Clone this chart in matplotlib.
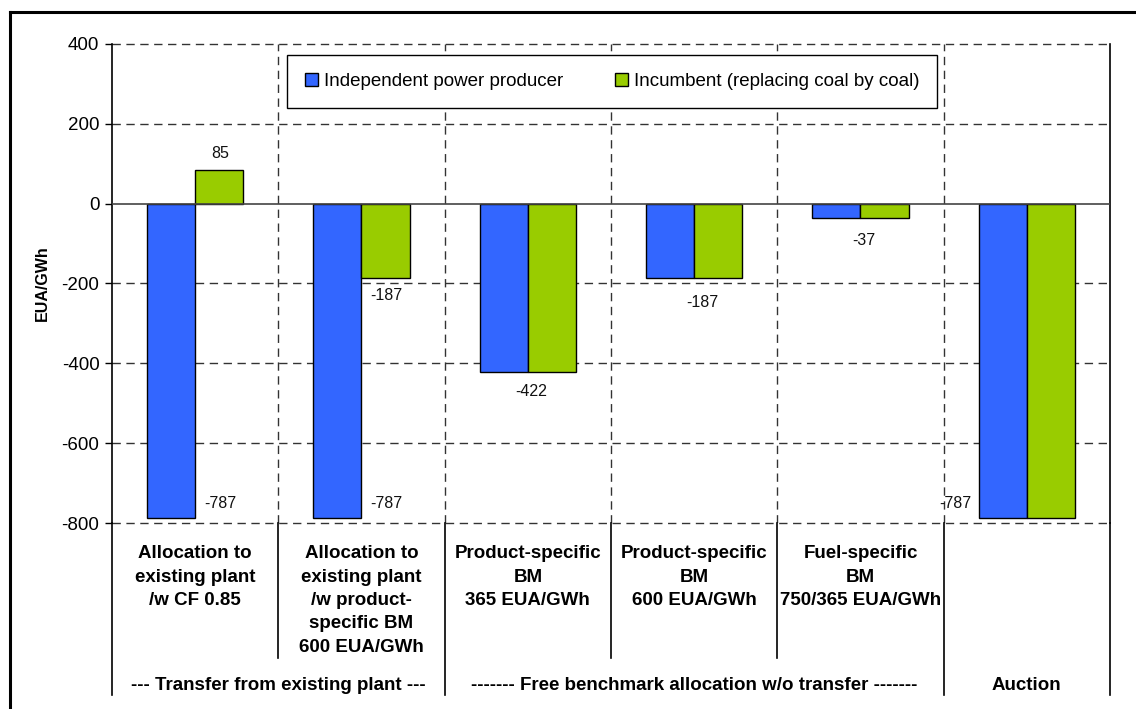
import matplotlib
matplotlib.use("Agg")
import matplotlib.pyplot as plt
from matplotlib.lines import Line2D
from matplotlib.patches import Patch
import numpy as np

plt.rcParams['font.family'] = ['Liberation Sans', 'DejaVu Sans']

categories = [
    "Allocation to\nexisting plant\n/w CF 0.85",
    "Allocation to\nexisting plant\n/w product-\nspecific BM\n600 EUA/GWh",
    "Product-specific\nBM\n365 EUA/GWh",
    "Product-specific\nBM\n600 EUA/GWh",
    "Fuel-specific\nBM\n750/365 EUA/GWh",
    "",
]
groups = ["--- Transfer from existing plant ---",
          "------- Free benchmark allocation w/o transfer -------",
          "Auction"]
group_spans = [(0, 1), (2, 4), (5, 5)]
series_names = ["Independent power producer", "Incumbent (replacing coal by coal)"]
ipp = [-787, -787, -422, -187, -37, -787]
incumbent = [85, -187, -422, -187, -37, -787]
yticks = [400, 200, 0, -200, -400, -600, -800]

blue = "#3366FF"
green = "#99CC00"

fig = plt.figure(figsize=(11.36, 7.09), dpi=100)
ax = fig.add_axes([112/1136, 1-523/709, 998/1136, 479/709])

x = np.arange(len(categories))
w = 0.29
ax.bar(x - w/2, ipp, w, color=blue, edgecolor="black", linewidth=1.0, zorder=3,
       label=series_names[0])
ax.bar(x + w/2, incumbent, w, color=green, edgecolor="black", linewidth=1.0, zorder=3,
       label=series_names[1])

ax.set_xlim(-0.5, len(categories) - 0.5)
ax.set_ylim(-800, 400)
ax.set_yticks(yticks)
ax.set_yticklabels([str(v) for v in yticks], fontsize=13.5)
ax.set_xticks([])
ax.tick_params(axis='y', direction='out', length=5, width=1, pad=4)

for s in ['top', 'bottom']:
    ax.spines[s].set_visible(False)
ax.spines['left'].set_linewidth(1.2)
ax.spines['right'].set_linewidth(1.2)

# horizontal gridlines
for v in yticks:
    if v == 0:
        ax.axhline(0, color="#444444", lw=1.2, zorder=4)
    else:
        ax.axhline(v, color="#333333", lw=1.0, ls=(0, (6, 4)), zorder=1, clip_on=False)
# vertical separators (dashed within plot)
for i in range(len(categories) - 1):
    ax.axvline(i + 0.5, color="#333333", lw=1.0, ls=(0, (6, 4)), zorder=1)

# data labels (positions as in reference)
lab_pos = [(0.15, -750), (0.15, 125), (1.15, -750), (1.15, -231),
           (2.02, -471), (3.05, -248), (4.02, -93), (4.57, -750)]
vals = [ipp[0], incumbent[0], ipp[1], incumbent[1], ipp[2], ipp[3], ipp[4], ipp[5]]
for (lx, ly), v in zip(lab_pos, vals):
    ax.text(lx, ly, str(v), ha='center', va='center', fontsize=11.5, color="#111111", zorder=5)

# lines below the axis
tr = ax.get_xaxis_transform()
y_cat = -135/479
y_grp = -172/479
bounds = [s[1] + 0.5 for s in group_spans[:-1]]
for i in range(len(categories) + 1):
    xs = i - 0.5
    bottom = y_grp
    if 0 < i < len(categories):
        bottom = y_grp if xs in bounds else y_cat
    ax.plot([xs, xs], [0, bottom], transform=tr, color="black", lw=1.2, clip_on=False)

# category labels
for i, c in enumerate(categories):
    ax.text(i, -22/479, c, transform=tr, ha='center', va='top', fontsize=13.5,
            fontweight='bold', linespacing=1.5)

# group labels
for g, (a, b) in zip(groups, group_spans):
    ax.text((a + b) / 2, -162/479, g, transform=tr, ha='center', va='center',
            fontsize=13.5, fontweight='bold')

fig.text(42/1136, 1-283/709, "EUA/GWh", rotation=90, ha='center', va='center',
         fontsize=11.5, fontweight='bold')

handles = [Patch(facecolor=blue, edgecolor="black", lw=1.0),
           Patch(facecolor=green, edgecolor="black", lw=1.0)]
leg = fig.legend(handles, series_names, loc='center',
                 bbox_to_anchor=(287/1136, 1-108/709, 650/1136, 53/709),
                 mode='expand', ncol=2, fontsize=13.5, frameon=True, fancybox=False,
                 edgecolor="black", framealpha=1, borderpad=0.95,
                 handlelength=0.7, handleheight=0.7, handletextpad=0.3,
                 borderaxespad=0)
leg.get_frame().set_linewidth(1.0)
leg.set_zorder(10)

# figure border (left and top)
fig.add_artist(Line2D([10/1136, 10/1136], [0, 1-12/709], color="black", lw=2.2))
fig.add_artist(Line2D([10/1136, 1], [1-12/709, 1-12/709], color="black", lw=2.2))

fig.savefig("out.png", dpi=100)
